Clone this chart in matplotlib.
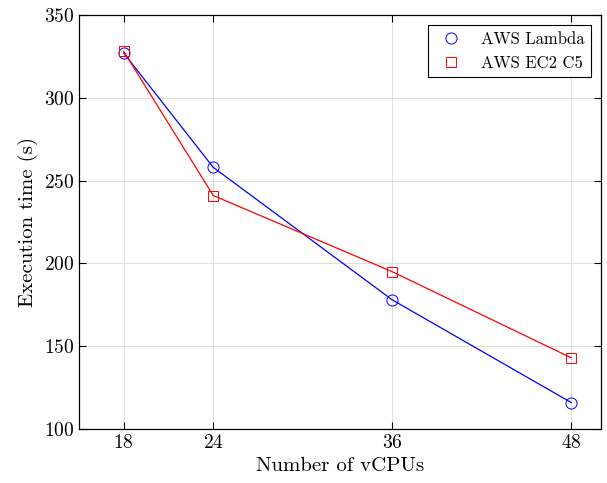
import matplotlib
matplotlib.use('Agg')
import matplotlib.pyplot as plt
from matplotlib.lines import Line2D

vcpus = [18, 24, 36, 48]
lambda_time = [327, 258, 178, 116]
ec2_time = [328, 241, 195, 143]

plt.rcParams['font.family'] = 'cmr10'
plt.rcParams['axes.formatter.use_mathtext'] = True
plt.rcParams['mathtext.fontset'] = 'cm'

fig = plt.figure(figsize=(6.07, 4.83), dpi=100)
ax = fig.add_axes([79 / 607, 1 - 429 / 483, 522 / 607, 414 / 483])

ax.plot(vcpus, lambda_time, color='blue', lw=0.9, marker='o', ms=8,
        mfc='none', mec='blue', mew=0.7)
ax.plot(vcpus, ec2_time, color='red', lw=0.9, marker='s', ms=7,
        mfc='none', mec='red', mew=0.7)

ax.set_xlim(15, 50)
ax.set_ylim(100, 350)
ax.set_xticks(vcpus)
ax.set_yticks(range(100, 351, 50))
ax.grid(True, color='#e0e0e0', lw=0.7)
ax.set_axisbelow(True)
ax.tick_params(direction='in', top=True, right=True, labelsize=14, length=5)
for s in ax.spines.values():
    s.set_linewidth(0.9)

ax.set_xlabel('Number of vCPUs', fontsize=15)
ax.set_ylabel('Execution time (s)', fontsize=15)

# legend shows markers only
handles = [
    Line2D([], [], ls='none', marker='o', ms=8, mfc='none', mec='blue', mew=0.7),
    Line2D([], [], ls='none', marker='s', ms=7, mfc='none', mec='red', mew=0.7),
]
leg = ax.legend(handles, ['AWS Lambda', 'AWS EC2 C5'], loc='upper right', fontsize=12,
                fancybox=False, edgecolor='black', framealpha=1, borderaxespad=0.6,
                handlelength=2.0)
leg.get_frame().set_linewidth(0.8)

fig.savefig('out.png', dpi=100)
